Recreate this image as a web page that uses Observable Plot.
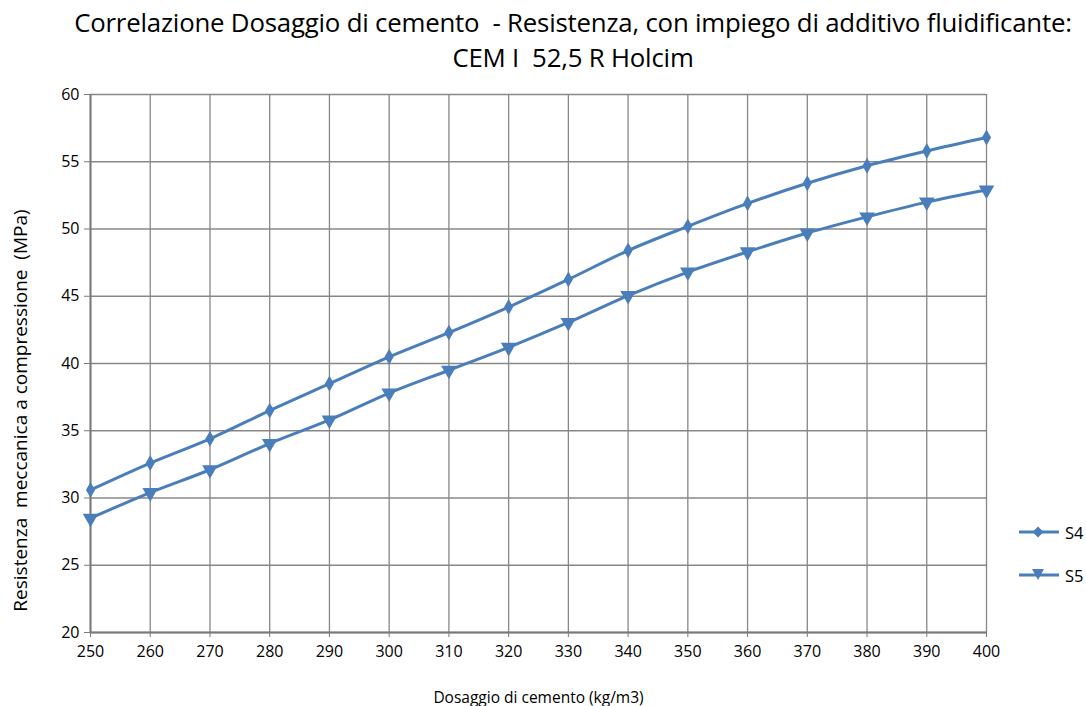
<!DOCTYPE html>
<html>
<head>
<meta charset="utf-8">
<script src="https://cdn.jsdelivr.net/npm/d3@7"></script>
<script src="https://cdn.jsdelivr.net/npm/@observablehq/plot@0.6"></script>
<style>
  html, body { margin: 0; padding: 0; background: #fff; }
  body { width: 1086px; height: 706px; position: relative; overflow: hidden; font-family: "Open Sans", "Noto Sans", sans-serif; }
  #title { position: absolute; left: 0; top: 5px; width: 1146px; text-align: center; font-size: 25.8px; line-height: 35px; color: #000; white-space: pre; letter-spacing: -0.2px; }
  #chart { position: absolute; left: 0; top: 80px; }
  #chart g[aria-label="x-axis tick label"], #chart g[aria-label="y-axis tick label"] { font-size: 16px; }
  #legend { position: absolute; left: 1018px; top: 518px; font-size: 16.5px; color: #000; }
  .lg { display: flex; align-items: center; height: 28px; margin-bottom: 15px; }
  .lg span { margin-left: 5px; }
</style>
</head>
<body>
<div id="title">Correlazione Dosaggio di cemento  - Resistenza, con impiego di additivo fluidificante:
CEM I  52,5 R Holcim</div>
<div id="chart"></div>
<div id="legend"></div>
<script>
const dosaggio = [250, 260, 270, 280, 290, 300, 310, 320, 330, 340, 350, 360, 370, 380, 390, 400];
const s4 = [30.6, 32.6, 34.4, 36.5, 38.5, 40.5, 42.3, 44.2, 46.25, 48.4, 50.2, 51.9, 53.4, 54.7, 55.8, 56.8];
const s5 = [28.5, 30.4, 32.1, 34.05, 35.8, 37.8, 39.5, 41.2, 43.05, 45.05, 46.8, 48.3, 49.7, 50.9, 52.0, 52.9];
const xTicks = [250, 260, 270, 280, 290, 300, 310, 320, 330, 340, 350, 360, 370, 380, 390, 400];
const yTicks = [20, 25, 30, 35, 40, 45, 50, 55, 60];
const seriesNames = ["S4", "S5"];

const color = "#4a7ebb";
const d4 = dosaggio.map((x, i) => ({x, y: s4[i]}));
const d5 = dosaggio.map((x, i) => ({x, y: s5[i]}));

const chart = Plot.plot({
  width: 1086,
  height: 626,
  marginLeft: 90,
  marginRight: 100,
  marginTop: 14,
  marginBottom: 74,
  style: {fontFamily: "'Open Sans', 'Noto Sans', sans-serif", fontSize: "15px", color: "#000", background: "#fff"},
  x: {domain: [250, 400]},
  y: {domain: [20, 60]},
  marks: [
    Plot.ruleX(xTicks, {stroke: "#878787", strokeWidth: 1.3}),
    Plot.ruleY(yTicks, {stroke: "#878787", strokeWidth: 1.3}),
    Plot.ruleX([250], {stroke: "#7a7a7a", strokeWidth: 2}),
    Plot.ruleY([20], {stroke: "#7a7a7a", strokeWidth: 2}),
    Plot.axisX({ticks: xTicks, tickSize: 5, tickPadding: 8, stroke: "#7a7a7a", fontSize: 16, tickFormat: d => String(d), label: null}),
    Plot.axisY({ticks: yTicks, tickSize: 6, tickPadding: 5, stroke: "#7a7a7a", fontSize: 16, tickFormat: d => String(d), label: null}),
    Plot.line(d4, {x: "x", y: "y", stroke: color, strokeWidth: 3, curve: "monotone-x"}),
    Plot.line(d5, {x: "x", y: "y", stroke: color, strokeWidth: 3, curve: "monotone-x"}),
    Plot.dot(d4, {x: "x", y: "y", symbol: "diamond", r: 4.8, fill: color, stroke: "none"}),
    Plot.dot(d5, {x: "x", y: "y", symbol: "triangle", r: 5.8, fill: color, stroke: "none", rotate: 180}),
    Plot.text(["Dosaggio di cemento (kg/m3)"], {frameAnchor: "bottom", dy: 70, fontSize: 15.5, lineAnchor: "bottom"}),
    Plot.text(["Resistenza  meccanica a compressione  (MPa)"], {frameAnchor: "left", dx: -70, dy: 47, rotate: -90, fontSize: 19, textAnchor: "middle"})
  ]
});
document.getElementById("chart").appendChild(chart);

const legend = document.getElementById("legend");
const syms = [
  `<polygon points="20,3.5 25.5,9 20,14.5 14.5,9" fill="${color}"/>`,
  `<polygon points="14,3 26,3 20,14" fill="${color}"/>`
];
seriesNames.forEach((name, i) => {
  const row = document.createElement("div");
  row.className = "lg";
  row.innerHTML = `<svg width="42" height="18"><line x1="1" x2="41" y1="9" y2="9" stroke="${color}" stroke-width="3"/>${syms[i]}</svg><span>${name}</span>`;
  legend.appendChild(row);
});
</script>
</body>
</html>
